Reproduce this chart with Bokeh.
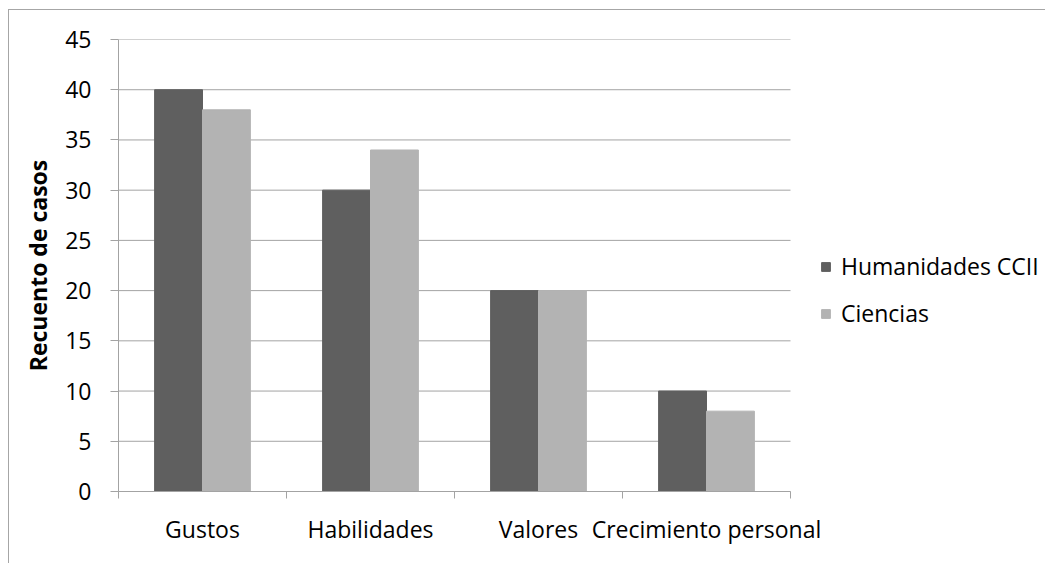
import numpy as np
from bokeh.plotting import figure
from bokeh.models import (ColumnDataSource, Range1d, FixedTicker, Legend, LegendItem)
from bokeh.transform import dodge
from bokeh.embed import file_html
from bokeh.resources import INLINE

categories = ["Gustos", "Habilidades", "Valores", "Crecimiento personal"]
humanidades = [40, 30, 20, 10]
ciencias = [38, 34, 20, 8]
series_names = ["Humanidades CCII", "Ciencias"]
y_ticks = [0, 5, 10, 15, 20, 25, 30, 35, 40, 45]

FONT = "Open Sans"
FS = "23px"
DARK = "#5f5f5f"
LIGHT = "#b3b3b3"
GRID = "#a3a3a3"

W, H = 1037, 554
BL, BR, BT, BB = 109, 1, 29, 73
CAT_PX = 168  # pixel width of one category
n = len(categories)
frame_w = W - BL - BR
x_end = frame_w / CAT_PX  # frame wider than categories to host the legend

centers = list(np.arange(n) + 0.5)
boundaries = list(np.arange(n + 1))

src = ColumnDataSource(dict(x=centers, hum=humanidades, cie=ciencias, cat=categories))
grid_src = ColumnDataSource(dict(y=y_ticks, x0=[0] * len(y_ticks), x1=[n] * len(y_ticks)))

p = figure(width=W, height=H, output_backend="svg", toolbar_location=None,
           x_range=Range1d(0, x_end), y_range=Range1d(y_ticks[0], y_ticks[-1]),
           min_border_left=BL, min_border_right=BR, min_border_top=BT, min_border_bottom=BB)
p.styles = {"border-top": "1px solid #a6a6a6", "border-left": "1px solid #a6a6a6",
            "margin-top": "9px", "margin-left": "8px"}
p.outline_line_color = None
p.background_fill_color = "white"
p.border_fill_color = "white"
p.xgrid.grid_line_color = None
p.ygrid.grid_line_color = None

# horizontal gridlines over the category area only
p.segment(x0="x0", x1="x1", y0="y", y1="y", source=grid_src, line_color=GRID, line_width=1)

bw = 0.285
r1 = p.vbar(x=dodge("x", -bw / 2), top="hum", width=bw, source=src,
            fill_color=DARK, line_color=DARK)
r2 = p.vbar(x=dodge("x", bw / 2), top="cie", width=bw, source=src,
            fill_color=LIGHT, line_color=LIGHT)

# Y axis
p.yaxis.ticker = FixedTicker(ticks=y_ticks)
p.yaxis.minor_tick_line_color = None
p.yaxis.major_tick_in = 0
p.yaxis.major_tick_out = 8
p.yaxis.major_tick_line_color = GRID
p.yaxis.axis_line_color = GRID
p.yaxis.major_label_text_font = FONT
p.yaxis.major_label_text_font_size = FS
p.yaxis.major_label_text_color = "black"
p.yaxis.major_label_standoff = 19
p.yaxis.axis_label = "Recuento de casos"
p.yaxis.axis_label_text_font = FONT
p.yaxis.axis_label_text_font_size = FS
p.yaxis.axis_label_text_font_style = "bold"
p.yaxis.axis_label_text_color = "black"
p.yaxis.axis_label_standoff = 8

# X axis
p.xaxis.bounds = (0, n)
p.xaxis.ticker = FixedTicker(ticks=centers, minor_ticks=boundaries)
p.xaxis.major_label_overrides = {c: lab for c, lab in zip(centers, categories)}
p.xaxis.major_tick_line_color = None
p.xaxis.major_tick_out = 0
p.xaxis.major_tick_in = 0
p.xaxis.minor_tick_in = 0
p.xaxis.minor_tick_out = 7
p.xaxis.minor_tick_line_color = GRID
p.xaxis.axis_line_color = GRID
p.xaxis.major_label_text_font = FONT
p.xaxis.major_label_text_font_size = FS
p.xaxis.major_label_text_color = "black"
p.xaxis.major_label_standoff = 14

legend = Legend(items=[LegendItem(label=series_names[0], renderers=[r1]),
                       LegendItem(label=series_names[1], renderers=[r2])],
                location=(702, 162), orientation="vertical")
legend.border_line_color = None
legend.background_fill_alpha = 0
legend.padding = 10
legend.margin = 0
legend.glyph_width = 11
legend.glyph_height = 11
legend.label_height = 25
legend.spacing = 15
legend.label_standoff = 10
legend.label_text_font = FONT
legend.label_text_font_size = FS
legend.label_text_color = "black"
legend.label_text_baseline = "middle"
p.add_layout(legend, "center")

open("out.html", "w").write(file_html(p, INLINE))
